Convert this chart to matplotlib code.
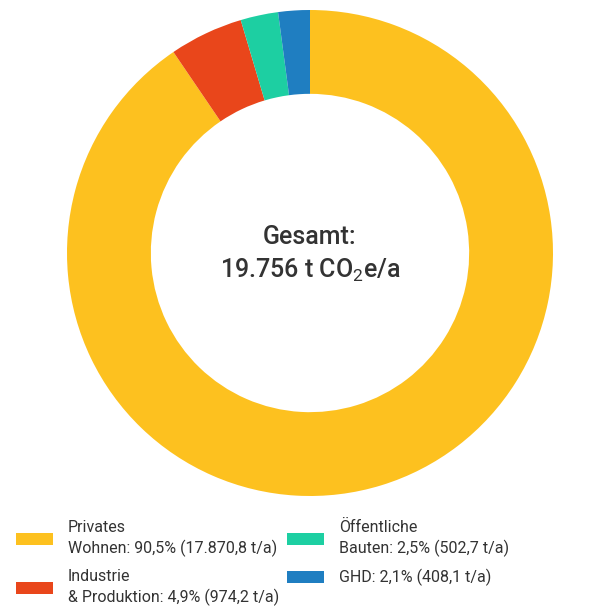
import matplotlib.pyplot as plt
from matplotlib.patches import Patch

sektoren = ["Privates\nWohnen", "Industrie\n& Produktion", "Öffentliche\nBauten", "GHD"]
anteile = [90.5, 4.9, 2.5, 2.1]
tonnen = ["17.870,8", "974,2", "502,7", "408,1"]
farben = ["#FDC11F", "#E9461B", "#1DCFA2", "#1F7EC1"]
gesamt = "19.756"

plt.rcParams["font.family"] = ["Roboto", "DejaVu Sans"]
plt.rcParams["mathtext.fontset"] = "custom"
plt.rcParams["mathtext.rm"] = "Roboto"
textfarbe = "#333333"

fig = plt.figure(figsize=(6.11, 6.10), dpi=100)
W, H = 611, 610
ax = fig.add_axes([67 / W, (610 - 253 - 243) / H, 486 / W, 486 / H])

ax.pie(anteile, colors=farben, startangle=90, counterclock=False,
       radius=1, wedgeprops=dict(width=0.345, linewidth=0))
ax.set_xlim(-1, 1)
ax.set_ylim(-1, 1)
ax.set_aspect("equal")
ax.axis("off")

ax.text(0, 0.065, "Gesamt:", ha="center", va="center", fontsize=18,
        color=textfarbe, fontweight="medium")
ax.text(0, -0.07, gesamt + r" t CO$_\mathrm{2}$e/a", ha="center", va="center",
        fontsize=18, color=textfarbe, fontweight="medium")

labels = [f"{s}: {str(a).replace('.', ',')}% ({t} t/a)"
          for s, a, t in zip(sektoren, anteile, tonnen)]
handles = [Patch(facecolor=c, edgecolor="none") for c in farben]
leg = fig.legend(handles, labels, loc="upper left", bbox_to_anchor=(16 / W, 1 - 520 / H),
                 ncol=2, frameon=False, fontsize=11.5, labelcolor=textfarbe,
                 borderpad=0, borderaxespad=0,
                 handlelength=2.3, handleheight=0.78, handletextpad=0.95,
                 columnspacing=0.5, labelspacing=0.75)
for t in leg.get_texts():
    t.set_linespacing(1.35)

fig.savefig("out.png", dpi=100)
